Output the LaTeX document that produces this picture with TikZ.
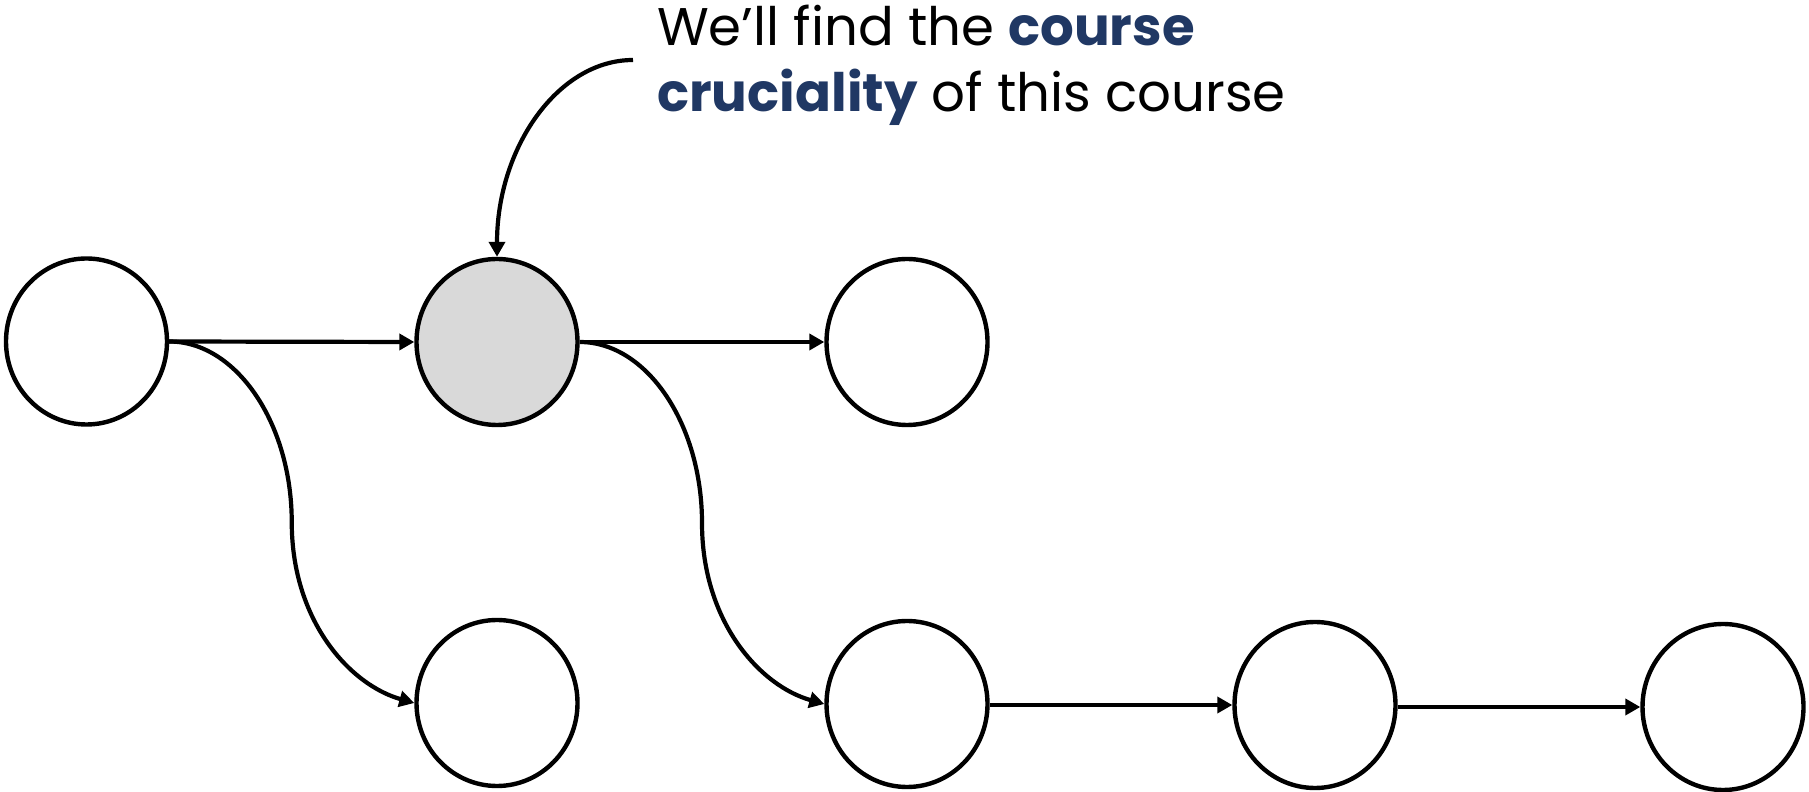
\documentclass[tikz,border=0pt]{standalone}
\usepackage{fontspec}
\setmainfont{Poppins}
\usetikzlibrary{arrows.meta,calc,shapes.geometric}
\definecolor{navy}{HTML}{203864}
\definecolor{shade}{HTML}{D9D9D9}
\begin{document}
\begin{tikzpicture}[x=1pt,y=1pt,
  course/.style={ellipse, draw=black, line width=4.4pt, fill=white,
    minimum width=161pt, minimum height=166pt, inner sep=0pt},
  link/.style={line width=4.2pt, -{Triangle[length=15pt,width=16pt]}}]
\useasboundingbox (0,0) rectangle (1809,792);

% course nodes
\node[course] (A) at (86.5,450.5) {};
\node[course, fill=shade] (B) at (497,450) {};
\node[course] (C) at (907,450) {};
\node[course] (D) at (497,89) {};
\node[course] (E) at (907,88) {};
\node[course] (F) at (1315,87) {};
\node[course] (G) at (1723,85) {};

% annotation (anchored on the baseline of its last line)
\node[anchor=base west, align=left, inner sep=0pt,
  font=\fontsize{53}{66}\selectfont] (note) at (657,680)
  {We’ll find the \textcolor{navy}{\bfseries course}\\
   \textcolor{navy}{\bfseries cruciality} of this course};
\coordinate (t) at (633,732);

% straight prerequisites
\draw[link] (A.east) -- (B.west);
\draw[link] (B.east) -- (C.west);
\draw[link] (E.east |- F.west) -- (F.west);
\draw[link] (F.east |- G.west) -- (G.west);

% curved prerequisites
\coordinate (m1) at ($(A.east)!0.5!(D.west)$);
\coordinate (m2) at ($(B.east)!0.5!(E.west)$);
\draw[link] (A.east) .. controls +(67,0) and +(0,99) .. (m1)
  .. controls +(0,-99) and +(-64,18) .. (D.west);
\draw[link] (B.east) .. controls +(67,0) and +(0,99) .. (m2)
  .. controls +(0,-99) and +(-64,18) .. (E.west);

% pointer to the highlighted course
\draw[link] (t) .. controls +(-75,0) and +(0,109) .. (B.north);
\end{tikzpicture}
\end{document}
